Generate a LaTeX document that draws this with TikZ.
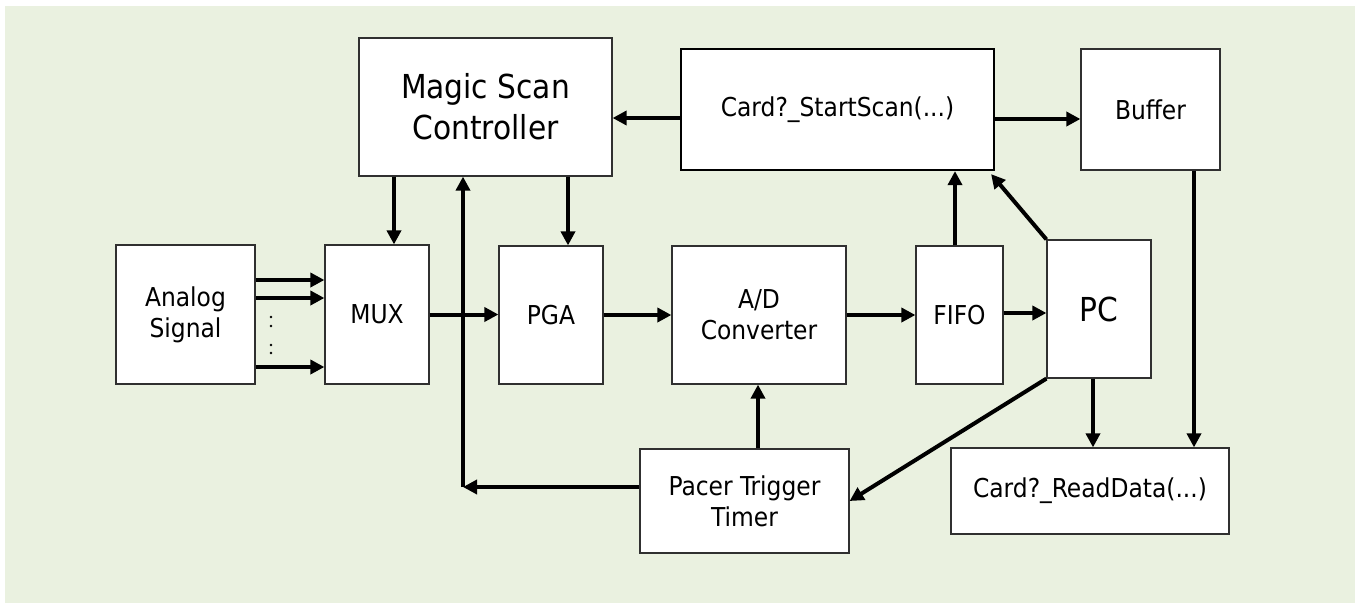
\documentclass[tikz,border=0pt]{standalone}
\usepackage{fontspec}
\setmainfont{DejaVu Sans Condensed}
\usetikzlibrary{arrows.meta,calc}
\definecolor{panel}{HTML}{EAF1E0}
\definecolor{edge}{HTML}{303030}
\begin{document}
\begin{tikzpicture}[x=1pt,y=-1pt,
  box/.style={draw=edge,line width=1.2pt,fill=white,inner sep=0pt,align=center,
    font=\fontsize{26}{31}\selectfont},
  bigtext/.style={font=\fontsize{33}{41}\selectfont},
  arr/.style={line width=4pt,-{Triangle[length=14pt,width=14pt]}},
  plain/.style={line width=4pt}]
\useasboundingbox (0,0) rectangle (1355,603);
\fill[panel] (5,6) rectangle (1355,603);
% boxes
\node[box,minimum width=139pt,minimum height=139pt] (analog) at (185.5,314.5) {Analog\\Signal};
\node[box,minimum width=104pt,minimum height=139pt] (mux) at (377,314.5) {MUX};
\node[box,minimum width=104pt,minimum height=138pt] (pga) at (551,315) {PGA};
\node[box,minimum width=174pt,minimum height=138pt] (ad) at (759,315) {A/D\\Converter};
\node[box,minimum width=87pt,minimum height=138pt] (fifo) at (959.5,315) {FIFO};
\node[box,bigtext,minimum width=104pt,minimum height=138pt] (pc) at (1099,309) {PC};
\node[box,bigtext,minimum width=253pt,minimum height=138pt] (msc) at (485.5,107) {Magic Scan\\Controller};
\node[box,line width=2.2pt,draw=black,minimum width=313pt,minimum height=121pt] (card) at (837.5,109.5) {Card?\_StartScan(...)};
\node[box,minimum width=139pt,minimum height=121pt] (buffer) at (1150.5,109.5) {Buffer};
\node[box,minimum width=209pt,minimum height=104pt] (pacer) at (744.5,501) {Pacer Trigger\\Timer};
\node[box,minimum width=278pt,minimum height=86pt] (read) at (1090,491) {Card?\_ReadData(...)};
% analog inputs
\foreach \dy in {34.5,16.5,-52.5}
  \draw[arr] ([yshift=\dy pt]analog.east) -- ([yshift=\dy pt]mux.west);
\foreach \yy in {317,326,345,353}
  \fill (271,\yy) circle (1.3pt);
% main chain
\draw[arr] (mux.east) -- (mux.east -| pga.west);
\draw[arr] (pga.east) -- (pga.east -| ad.west);
\draw[arr] (ad.east) -- (ad.east -| fifo.west);
\draw[arr] ([yshift=2pt]fifo.east) -- ([yshift=2pt]fifo.east -| pc.west);
% controller
\draw[arr] ([xshift=-91.5pt]msc.south) -- ([xshift=-91.5pt]msc.south |- mux.north);
\draw[arr] ([xshift=82.5pt]msc.south) -- ([xshift=82.5pt]msc.south |- pga.north);
% pacer loop
\coordinate (j) at (463,487);
\draw[arr] ([yshift=14pt]pacer.west) -- (j);
\draw[arr] (j) -- (j |- msc.south);
\draw[arr] ([xshift=13.5pt]pacer.north) -- ([xshift=13.5pt]pacer.north |- ad.south);
% card
\draw[arr] ([yshift=-8.5pt]card.west) -- ([yshift=-8.5pt]card.west -| msc.east);
\draw[arr] ([yshift=-9.5pt]card.east) -- ([yshift=-9.5pt]card.east -| buffer.west);
\draw[arr] ([xshift=-4.5pt]fifo.north) -- ([xshift=-4.5pt]fifo.north |- card.south);
\draw[arr] (pc.north west) -- ([shift={(-4pt,-3pt)}]card.south east);
% pc outputs
\draw[arr] (pc.south west) -- (pacer.east);
\draw[arr] ([xshift=-6pt]pc.south) -- ([xshift=-6pt]pc.south |- read.north);
\draw[arr] ([xshift=43.5pt]buffer.south) -- ([xshift=43.5pt]buffer.south |- read.north);
\end{tikzpicture}
\end{document}
